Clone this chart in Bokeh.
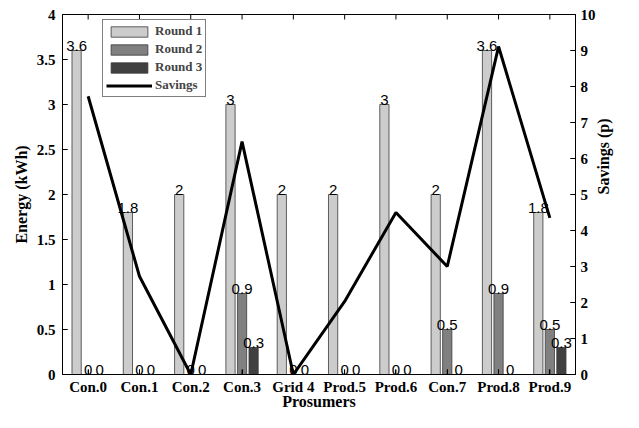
import math
from bokeh.plotting import figure
from bokeh.models import (ColumnDataSource, Range1d, LinearAxis, FixedTicker,
                          Legend, LegendItem)
from bokeh.transform import dodge
from bokeh.core.properties import value
from bokeh.embed import file_html
from bokeh.resources import INLINE

categories = ["Con.0", "Con.1", "Con.2", "Con.3", "Grid 4", "Prod.5", "Prod.6", "Con.7", "Prod.8", "Prod.9"]
round1 = [3.6, 1.8, 2, 3, 2, 2, 3, 2, 3.6, 1.8]
round2 = [0, 0, 0, 0.9, 0, 0, 0, 0.5, 0.9, 0.5]
round3 = [0, 0, 0, 0.3, 0, 0, 0, 0, 0, 0.3]
savings = [7.73, 2.73, 0, 6.47, 0, 2.03, 4.5, 3.0, 9.11, 4.35]
energy_ticks = [0, 0.5, 1, 1.5, 2, 2.5, 3, 3.5, 4]
savings_ticks = [0, 1, 2, 3, 4, 5, 6, 7, 8, 9, 10]

xs = list(range(1, len(categories) + 1))

def fmt(v):
    return ("%g" % v)

src = ColumnDataSource(dict(
    x=xs, r1=round1, r2=round2, r3=round3, sav=savings,
    t1=[fmt(v) for v in round1], t2=[fmt(v) for v in round2], t3=[fmt(v) for v in round3],
))

SERIF = "Liberation Serif"
SANS = "Liberation Sans"

xr = Range1d(0.5, 10.5)
yr = Range1d(0, 4)
sr = Range1d(0, 10)

p = figure(width=623, height=412, output_backend="svg", toolbar_location=None,
           x_range=xr, y_range=yr,
           min_border_left=62, min_border_right=41, min_border_top=14, min_border_bottom=33)
p.xgrid.visible = False
p.ygrid.visible = False
p.outline_line_color = "black"
p.outline_line_width = 1
p.background_fill_color = "white"
p.border_fill_color = "white"

p.extra_y_ranges = {"sav": sr}

off = 0.225
bw = 0.18
edge = "#3a3a3a"
b1 = p.vbar(x=dodge("x", -off), top="r1", width=bw, source=src, fill_color="#cccccc", line_color=edge, line_width=0.8)
b2 = p.vbar(x=dodge("x", 0), top="r2", width=bw, source=src, fill_color="#808080", line_color=edge, line_width=0.8)
b3 = p.vbar(x=dodge("x", off), top="r3", width=bw, source=src, fill_color="#404040", line_color=edge, line_width=0.8)

for col, t, dx in (("r1", "t1", -off), ("r2", "t2", 0), ("r3", "t3", off)):
    p.text(x=dodge("x", dx), y=col, text=t, source=src, text_align="center", text_baseline="bottom",
           y_offset=0, text_font=value(SANS), text_font_size="15px", text_color="black")

ln = p.line(x="x", y="sav", source=src, y_range_name="sav", line_color="black", line_width=3)

# inward tick marks (from the tick lists)
TL = 5
n = len(xs)
p.ray(x=xs, y=[yr.start] * n, length=TL, length_units="screen", angle=math.pi / 2, line_color="black", line_width=1)
p.ray(x=xs, y=[yr.end] * n, length=TL, length_units="screen", angle=-math.pi / 2, line_color="black", line_width=1)
p.ray(x=[xr.start] * len(energy_ticks), y=energy_ticks, length=TL, length_units="screen", angle=0,
      line_color="black", line_width=1)
p.ray(x=[xr.end] * len(savings_ticks), y=savings_ticks, length=TL, length_units="screen", angle=math.pi,
      line_color="black", line_width=1, y_range_name="sav")

def style_axis(ax):
    ax.major_tick_in = 5
    ax.major_tick_out = 0
    ax.minor_tick_in = 0
    ax.minor_tick_out = 0
    ax.major_tick_line_color = "black"
    ax.major_tick_line_width = 1
    ax.axis_line_color = "black"
    ax.axis_line_width = 1
    ax.major_label_text_font = SERIF
    ax.major_label_text_font_style = "bold"
    ax.major_label_text_font_size = "15px"
    ax.major_label_text_color = "black"
    ax.axis_label_text_font = SERIF
    ax.axis_label_text_font_style = "bold"
    ax.axis_label_text_font_size = "16px"
    ax.axis_label_text_color = "black"

xa = p.xaxis[0]
xa.ticker = FixedTicker(ticks=xs)
xa.major_label_overrides = {i: c for i, c in zip(xs, categories)}
xa.axis_label = "Prosumers"
style_axis(xa)
xa.major_label_standoff = 4
xa.axis_label_standoff = -5

ya = p.yaxis[0]
ya.ticker = FixedTicker(ticks=energy_ticks)
ya.axis_label = "Energy (kWh)"
style_axis(ya)
ya.major_label_standoff = 7
ya.axis_label_standoff = 4

ra = LinearAxis(y_range_name="sav", ticker=FixedTicker(ticks=savings_ticks), axis_label="Savings (p)")
style_axis(ra)
ra.major_label_standoff = 5
ra.axis_label_standoff = 5
if "axis_label_orientation" in ra.properties():
    ra.axis_label_orientation = math.pi / 2
p.add_layout(ra, "right")

legend = Legend(items=[
    LegendItem(label="Round 1", renderers=[b1]),
    LegendItem(label="Round 2", renderers=[b2]),
    LegendItem(label="Round 3", renderers=[b3]),
    LegendItem(label="Savings", renderers=[ln]),
], location=(40, 277))
legend.label_text_font = SERIF
legend.label_text_font_style = "bold"
legend.label_text_font_size = "13px"
legend.glyph_width = 46
legend.glyph_height = 13
legend.spacing = 2
legend.padding = 3
legend.margin = 0
legend.label_standoff = 3
legend.label_height = 13
legend.border_line_color = "black"
legend.border_line_width = 1
legend.background_fill_alpha = 1
p.add_layout(legend, "center")

open("out.html", "w").write(file_html(p, INLINE))
